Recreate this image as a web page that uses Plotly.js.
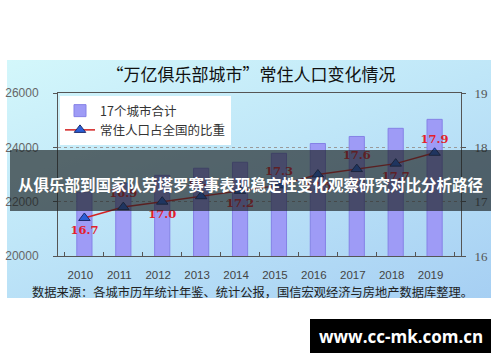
<!DOCTYPE html>
<html>
<head>
<meta charset="utf-8">
<script src="https://cdn.plot.ly/plotly-3.0.1.min.js"></script>
<style>
  html, body { margin:0; padding:0; background:#ffffff; }
  #wrap { position:relative; width:500px; height:362px; overflow:hidden; }
  #bg { position:absolute; left:7px; top:60px; width:484px; height:238px;
        background: linear-gradient(160deg, #d3f7fb 0%, #bfe6f8 45%, #a6cff3 100%); }
  #chart { position:absolute; left:0; top:0; width:500px; height:362px; }
</style>
</head>
<body>
<div id="wrap">
  <div id="bg"></div>
  <div id="chart"></div>
</div>
<script>
// ---- data ----
var years = ['2010','2011','2012','2013','2014','2015','2016','2017','2018','2019'];
var cityTotal = [22350, 22680, 22970, 23230, 23450, 23780, 24140, 24400, 24700, 25030];
var shareOfNation = [16.7, 16.9, 17.0, 17.1, 17.2, 17.3, 17.5, 17.6, 17.7, 17.9];
var seriesNames = ['17个城市合计', '常住人口占全国的比重'];
var titleText = '“万亿俱乐部城市”常住人口变化情况';
var sourceText = '数据来源：各城市历年统计年鉴、统计公报，国信宏观经济与房地产数据库整理。';
var bannerText = '从俱乐部到国家队劳塔罗赛事表现稳定性变化观察研究对比分析路径';
var watermarkText = 'www.cc-mk.com.cn';

// ---- geometry helpers (pixel -> paper) ----
var L = 58, R = 461, T = 93, B = 256;
function PX(px){ return (px - L) / (R - L); }
function PY(py){ return (B - py) / (B - T); }

var labelPos = shareOfNation.map(function(v, i){ return i % 2 === 0 ? 'bottom center' : 'top center'; });

var traces = [
  {
    type: 'bar', name: seriesNames[0], x: years, y: cityTotal, yaxis: 'y',
    width: 0.39,
    marker: { color: '#9e9bf6', line: { color: '#8582e6', width: 1 } },
    hoverinfo: 'skip'
  },
  {
    type: 'scatter', mode: 'lines+markers+text', name: seriesNames[1],
    x: years, y: shareOfNation, yaxis: 'y2',
    text: shareOfNation.map(function(v){ return v.toFixed(1); }),
    textposition: labelPos,
    textfont: { family: 'DejaVu Serif', size: 11.5, color: '#e3202a', weight: 'bold' },
    line: { color: '#d42222', width: 1.5 },
    marker: { symbol: 'triangle-up', size: 10, color: '#2b5fd8', line: { color: '#1b2b6e', width: 1 } },
    cliponaxis: false,
    hoverinfo: 'skip'
  }
];

var layout = {
  width: 500, height: 362, autosize: false,
  margin: { l: L, r: 500 - R, t: T, b: 362 - B, pad: 0 },
  paper_bgcolor: 'rgba(0,0,0,0)', plot_bgcolor: 'rgba(0,0,0,0)',
  showlegend: true,
  bargap: 0.6,
  title: {
    text: titleText, x: 251/500, xref: 'container', xanchor: 'center',
    y: 1 - 75/362, yref: 'container', yanchor: 'middle',
    font: { family: 'Noto Sans CJK SC', size: 17, color: '#111111' }
  },
  legend: {
    x: PX(60), y: PY(96), xanchor: 'left', yanchor: 'top',
    bgcolor: '#ffffff', borderwidth: 0,
    font: { family: 'Noto Sans CJK SC', size: 12.5, color: '#333333' },
    itemwidth: 30, tracegroupgap: 0
  },
  xaxis: {
    type: 'category', showline: true, linecolor: '#555555', linewidth: 1, mirror: true,
    ticks: 'inside', tickson: 'boundaries', ticklen: 4, tickcolor: '#555555',
    tickfont: { family: 'Liberation Sans', size: 11.5, color: '#444444' },
    ticklabelstandoff: 8, ticklabelshift: -4,
    showgrid: false, zeroline: false, fixedrange: true
  },
  yaxis: {
    range: [20000, 26000], dtick: 2000, tick0: 20000, tickformat: 'd',
    showline: true, linecolor: '#555555', linewidth: 1, mirror: true,
    ticks: 'outside', ticklen: 4, tickcolor: '#555555',
    tickfont: { family: 'Liberation Sans', size: 12, color: '#666666' },
    ticklabelstandoff: 12,
    showgrid: true, gridcolor: '#9a9a9a', griddash: 'dot', gridwidth: 1,
    zeroline: false, fixedrange: true
  },
  yaxis2: {
    range: [16, 19], dtick: 1, tick0: 16, tickformat: 'd', overlaying: 'y', side: 'right',
    showline: false, ticks: 'outside', ticklen: 4, tickcolor: '#555555',
    tickfont: { family: 'Liberation Serif', size: 13, color: '#555555' },
    ticklabelstandoff: 6,
    showgrid: false, zeroline: false, fixedrange: true
  },
  shapes: [
    { type: 'rect', xref: 'paper', yref: 'paper', layer: 'above',
      x0: PX(10), x1: PX(491), y0: PY(211), y1: PY(150),
      fillcolor: 'rgba(26,32,34,0.66)', line: { width: 0 } },
    { type: 'rect', xref: 'paper', yref: 'paper', layer: 'above',
      x0: PX(310), x1: PX(491), y0: PY(353), y1: PY(319),
      fillcolor: '#000000', line: { width: 0 } }
  ],
  annotations: [
    { xref: 'paper', yref: 'paper', x: PX(250), y: PY(184), xanchor: 'center', yanchor: 'middle',
      text: bannerText, showarrow: false,
      font: { family: 'Noto Sans CJK SC', size: 15.5, color: '#ffffff', weight: 'bold' } },
    { xref: 'paper', yref: 'paper', x: PX(401), y: PY(336), xanchor: 'center', yanchor: 'middle',
      text: watermarkText, showarrow: false,
      font: { family: 'Open Sans', size: 17, color: '#ffffff', weight: 'bold' } },
    { xref: 'paper', yref: 'paper', x: PX(252.5), y: PY(292), xanchor: 'center', yanchor: 'middle',
      text: sourceText, showarrow: false,
      font: { family: 'Noto Sans CJK SC', size: 12.25, color: '#222222' } }
  ]
};

Plotly.newPlot('chart', traces, layout, { displayModeBar: false, staticPlot: true });
</script>
</body>
</html>
